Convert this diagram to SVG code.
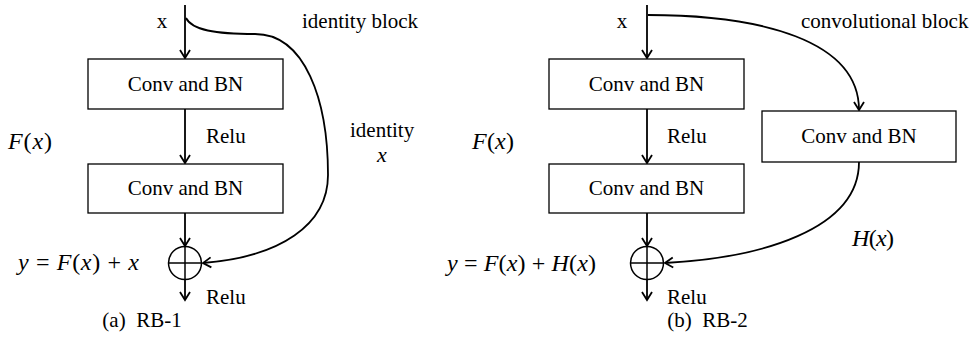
<svg xmlns="http://www.w3.org/2000/svg" width="977" height="347" viewBox="0 0 977 347">
<defs>
<style>
.t{font-family:"Liberation Serif","Times New Roman",serif;font-size:21px;fill:#000}
.m{font-family:"Liberation Serif","Times New Roman",serif;font-size:24px;fill:#000}
.i{font-style:italic}
.box{fill:#fff;stroke:#000;stroke-width:1.3}
.ln{fill:none;stroke:#000;stroke-width:1.8}
.ci{fill:none;stroke:#000;stroke-width:1.5}
</style>
<marker id="ah" markerUnits="userSpaceOnUse" markerWidth="14" markerHeight="14" viewBox="-10 -7 12 14" refX="0" refY="0" orient="auto">
<path d="M-8,-5 L0,0 L-8,5" fill="none" stroke="#000" stroke-width="1.8"/>
</marker>
</defs>
<rect width="977" height="347" fill="#fff"/>

<g id="connectors">
<line class="ln" x1="185" y1="5" x2="185" y2="58" marker-end="url(#ah)"/>
<line class="ln" x1="185" y1="109" x2="185" y2="163" marker-end="url(#ah)"/>
<line class="ln" x1="185" y1="213" x2="185" y2="246" marker-end="url(#ah)"/>
<line class="ln" x1="185" y1="280" x2="185" y2="300" marker-end="url(#ah)"/>
<path class="ln" d="M186,18 C192,30 215,34 255,34 C305,34 328,100 328,175 C328,225 280,257 203,263" marker-end="url(#ah)"/>
<line class="ln" x1="647" y1="5" x2="647" y2="58" marker-end="url(#ah)"/>
<line class="ln" x1="647" y1="109" x2="647" y2="163" marker-end="url(#ah)"/>
<line class="ln" x1="647" y1="213" x2="647" y2="246" marker-end="url(#ah)"/>
<line class="ln" x1="647" y1="280" x2="647" y2="300" marker-end="url(#ah)"/>
<path class="ln" d="M648,15 C760,15 859,40 859,110" marker-end="url(#ah)"/>
<path class="ln" d="M859,162 C859,230 760,258 665,263" marker-end="url(#ah)"/>
</g>

<g id="left-conv1"><rect class="box" x="88" y="59" width="195" height="50"/><text class="t" x="185.5" y="91" text-anchor="middle">Conv and BN</text></g>
<g id="left-conv2"><rect class="box" x="88" y="164" width="195" height="49"/><text class="t" x="185.5" y="195" text-anchor="middle">Conv and BN</text></g>
<g id="left-add"><circle class="ci" cx="185" cy="263" r="16.5"/><line class="ci" x1="168.5" y1="263" x2="201.5" y2="263"/><line class="ci" x1="185" y1="246.5" x2="185" y2="279.5"/></g>

<g id="right-conv1"><rect class="box" x="549" y="59" width="195" height="50"/><text class="t" x="646.5" y="91" text-anchor="middle">Conv and BN</text></g>
<g id="right-conv2"><rect class="box" x="549" y="164" width="195" height="49"/><text class="t" x="646.5" y="195" text-anchor="middle">Conv and BN</text></g>
<g id="right-conv3"><rect class="box" x="762" y="111" width="194" height="51"/><text class="t" x="859" y="143" text-anchor="middle">Conv and BN</text></g>
<g id="right-add"><circle class="ci" cx="647" cy="263" r="16.5"/><line class="ci" x1="630.5" y1="263" x2="663.5" y2="263"/><line class="ci" x1="647" y1="246.5" x2="647" y2="279.5"/></g>

<g id="labels">
<text class="t" x="162" y="28" text-anchor="middle">x</text>
<text class="t" x="302" y="28">identity block</text>
<text class="t" x="206" y="143">Relu</text>
<text class="m" x="8" y="149" textLength="44"><tspan class="i">F</tspan>(<tspan class="i">x</tspan>)</text>
<text class="t" x="350" y="137">identity</text>
<text class="t i" x="382" y="162" text-anchor="middle" style="font-size:22px">x</text>
<text class="m" x="18" y="270" textLength="121"><tspan class="i">y</tspan> = <tspan class="i">F</tspan>(<tspan class="i">x</tspan>) + <tspan class="i">x</tspan></text>
<text class="t" x="206" y="304">Relu</text>
<text class="t" x="142" y="327" text-anchor="middle">(a)&#160; RB-1</text>

<text class="t" x="622" y="28" text-anchor="middle">x</text>
<text class="t" x="801" y="28">convolutional block</text>
<text class="t" x="667" y="143">Relu</text>
<text class="m" x="472" y="149" textLength="42"><tspan class="i">F</tspan>(<tspan class="i">x</tspan>)</text>
<text class="m" x="852" y="246" textLength="42"><tspan class="i">H</tspan>(<tspan class="i">x</tspan>)</text>
<text class="m" x="447" y="271" textLength="149"><tspan class="i">y</tspan> = <tspan class="i">F</tspan>(<tspan class="i">x</tspan>) + <tspan class="i">H</tspan>(<tspan class="i">x</tspan>)</text>
<text class="t" x="667" y="304">Relu</text>
<text class="t" x="707.5" y="327" text-anchor="middle">(b)&#160; RB-2</text>
</g>
</svg>
